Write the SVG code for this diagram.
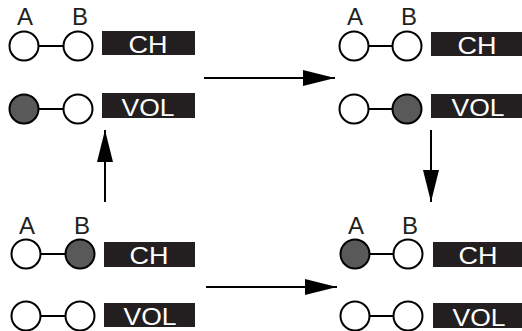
<svg xmlns="http://www.w3.org/2000/svg" width="522" height="331" viewBox="0 0 522 331">
  <style>
    .lbl { font-family: "Liberation Sans", Arial, sans-serif; font-size: 24px; fill: #231f20; text-anchor: middle; }
    .tag { fill: #231f20; }
    .tagtxt { font-family: "Liberation Sans", Arial, sans-serif; font-size: 24px; fill: #ffffff; text-anchor: middle; }
    .off { fill: #ffffff; stroke: #000000; stroke-width: 2; }
    .on { fill: #595959; stroke: #000000; stroke-width: 2; }
    .link { stroke: #000000; stroke-width: 2; }
    .conn { stroke: #000000; stroke-width: 2; fill: none; }
  </style>
  <defs>
    <marker id="arrow" viewBox="0 0 32 16" refX="32" refY="8" markerWidth="32" markerHeight="16" markerUnits="userSpaceOnUse" orient="auto">
      <path d="M0,0 L32,8 L0,16 Z" fill="#000000"/>
    </marker>
  </defs>

  <!-- top-left state -->
  <g id="state-tl">
    <text class="lbl" x="25" y="25">A</text>
    <text class="lbl" x="80" y="25">B</text>
    <line class="link" x1="24" y1="46" x2="78" y2="46"/>
    <circle class="off" cx="24" cy="46" r="14.5"/>
    <circle class="off" cx="78" cy="46" r="14.5"/>
    <rect class="tag" x="102" y="31" width="93" height="24"/>
    <text class="tagtxt" x="148" y="53" textLength="39" lengthAdjust="spacingAndGlyphs">CH</text>
    <line class="link" x1="24" y1="109" x2="78" y2="109"/>
    <circle class="on" cx="24" cy="109" r="14.5"/>
    <circle class="off" cx="78" cy="109" r="14.5"/>
    <rect class="tag" x="102" y="93" width="93" height="25"/>
    <text class="tagtxt" x="148" y="116" textLength="53" lengthAdjust="spacingAndGlyphs">VOL</text>
  </g>

  <!-- top-right state -->
  <g id="state-tr">
    <text class="lbl" x="355" y="25">A</text>
    <text class="lbl" x="409" y="25">B</text>
    <line class="link" x1="354" y1="46" x2="407" y2="46"/>
    <circle class="off" cx="354" cy="46" r="14.5"/>
    <circle class="off" cx="407" cy="46" r="14.5"/>
    <rect class="tag" x="431" y="32" width="91" height="24"/>
    <text class="tagtxt" x="477" y="54" textLength="39" lengthAdjust="spacingAndGlyphs">CH</text>
    <line class="link" x1="354" y1="109" x2="407" y2="109"/>
    <circle class="off" cx="354" cy="109" r="14.5"/>
    <circle class="on" cx="407" cy="109" r="14.5"/>
    <rect class="tag" x="431" y="94" width="91" height="24"/>
    <text class="tagtxt" x="478" y="116" textLength="53" lengthAdjust="spacingAndGlyphs">VOL</text>
  </g>

  <!-- bottom-left state -->
  <g id="state-bl">
    <text class="lbl" x="27" y="234">A</text>
    <text class="lbl" x="82" y="234">B</text>
    <line class="link" x1="26" y1="254" x2="80" y2="254"/>
    <circle class="off" cx="26" cy="254" r="14.5"/>
    <circle class="on" cx="80" cy="254" r="14.5"/>
    <rect class="tag" x="104" y="242" width="91" height="25"/>
    <text class="tagtxt" x="149" y="264" textLength="39" lengthAdjust="spacingAndGlyphs">CH</text>
    <line class="link" x1="26" y1="316" x2="80" y2="316"/>
    <circle class="off" cx="26" cy="316" r="14.5"/>
    <circle class="off" cx="80" cy="316" r="14.5"/>
    <rect class="tag" x="104" y="303" width="91" height="24"/>
    <text class="tagtxt" x="150" y="325" textLength="53" lengthAdjust="spacingAndGlyphs">VOL</text>
  </g>

  <!-- bottom-right state -->
  <g id="state-br">
    <text class="lbl" x="356" y="234">A</text>
    <text class="lbl" x="410" y="234">B</text>
    <line class="link" x1="355" y1="254" x2="408" y2="254"/>
    <circle class="on" cx="355" cy="254" r="14.5"/>
    <circle class="off" cx="408" cy="254" r="14.5"/>
    <rect class="tag" x="433" y="242" width="89" height="25"/>
    <text class="tagtxt" x="478" y="264" textLength="39" lengthAdjust="spacingAndGlyphs">CH</text>
    <line class="link" x1="355" y1="316" x2="408" y2="316"/>
    <circle class="off" cx="355" cy="316" r="14.5"/>
    <circle class="off" cx="408" cy="316" r="14.5"/>
    <rect class="tag" x="433" y="303" width="89" height="25"/>
    <text class="tagtxt" x="479" y="326" textLength="53" lengthAdjust="spacingAndGlyphs">VOL</text>
  </g>

  <!-- transitions -->
  <g id="connectors">
    <line class="conn" x1="204" y1="78" x2="335" y2="78" marker-end="url(#arrow)"/>
    <line class="conn" x1="431" y1="130" x2="431" y2="202" marker-end="url(#arrow)"/>
    <line class="conn" x1="206" y1="287" x2="337" y2="287" marker-end="url(#arrow)"/>
    <line class="conn" x1="105" y1="202" x2="105" y2="130" marker-end="url(#arrow)"/>
  </g>
</svg>
